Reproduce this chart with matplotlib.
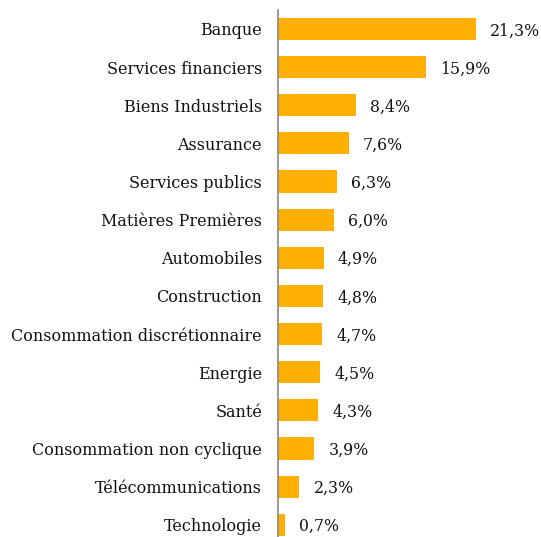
import matplotlib
matplotlib.use("Agg")
import matplotlib.pyplot as plt

categories = ["Banque", "Services financiers", "Biens Industriels", "Assurance",
              "Services publics", "Matières Premières", "Automobiles", "Construction",
              "Consommation discrétionnaire", "Energie", "Santé",
              "Consommation non cyclique", "Télécommunications", "Technologie"]
values = [21.3, 15.9, 8.4, 7.6, 6.3, 6.0, 4.9, 4.8, 4.7, 4.5, 4.3, 3.9, 2.3, 0.7]
labels = ["21,3%", "15,9%", "8,4%", "7,6%", "6,3%", "6,0%", "4,9%", "4,8%",
          "4,7%", "4,5%", "4,3%", "3,9%", "2,3%", "0,7%"]

plt.rcParams['font.family'] = ['DejaVu Serif']

fig = plt.figure(figsize=(5.41, 5.37), dpi=100)
ax = fig.add_axes([278 / 541, 0, 263 / 541, 1])

pos = list(range(len(categories)))
ax.barh(pos, values, height=0.58, color="#FFAF00")
for p, v, t in zip(pos, values, labels):
    ax.text(v + 1.55, p, t, va="center_baseline", ha="left", fontsize=11.3, color="#111111")

ax.set_xlim(0, 28.3)
ax.set_ylim(13.32, -0.76)
ax.set_yticks(pos)
ax.set_yticklabels(categories, fontsize=11.5, color="#111111", va="center_baseline")
ax.tick_params(axis="y", length=0, pad=11.5)
ax.set_xticks([])
for s in ["top", "right", "bottom"]:
    ax.spines[s].set_visible(False)
ax.spines["left"].set_color("#888888")
ax.spines["left"].set_linewidth(1.2)
ax.spines["left"].set_bounds(-0.5, 13.32)

fig.savefig("out.png", dpi=100)
